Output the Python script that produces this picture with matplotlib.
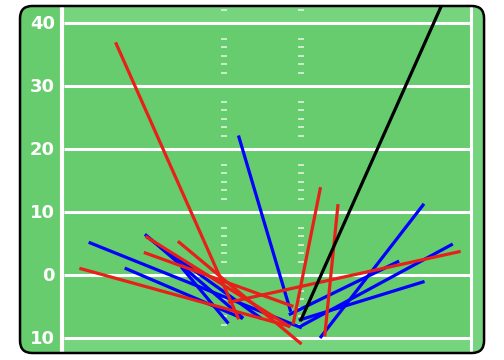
import matplotlib.pyplot as plt
from matplotlib.patches import FancyBboxPatch, Rectangle

# yard lines and the labels painted next to them
yard_lines = [40, 30, 20, 10, 0, -10]
yard_labels = ['40', '30', '20', '10', '0', '10']

# passes: (x_start, y_start, x_end, y_end), x across field, y downfield (yards)
blue_passes = [
    (-23.0, 5.1, 4.4, -8.3),
    (-3.6, 21.9, 3.1, -5.6),
    (20.4, 11.1, 7.1, -9.8),
    (24.1, 4.8, 4.5, -8.1),
    (17.1, 2.1, 3.1, -6.2),
    (20.4, -1.1, 4.4, -7.1),
    (-18.3, 1.0, -3.3, -6.8),
    (-15.7, 6.3, -3.2, -6.7),
    (-15.4, 5.9, -0.8, -6.8),
    (-11.0, 1.1, -5.1, -7.5),
]
red_passes = [
    (-19.6, 36.7, -3.7, -6.8),
    (-15.6, 6.0, 2.9, -8.1),
    (-11.4, 5.2, 4.4, -10.8),
    (-15.8, 3.5, 3.3, -4.9),
    (25.1, 3.7, -4.8, -4.3),
    (-24.2, 1.0, 2.9, -8.1),
    (7.0, 13.7, 3.5, -7.6),
    (9.3, 11.0, 7.6, -9.5),
]
black_passes = [
    (4.5, -7.1, 24.0, 46.0),
]

field_green = '#66cc6e'
light_green = '#76d47f'

fig = plt.figure(figsize=(5.04, 3.6), dpi=100)
ax = fig.add_axes([0, 0, 1, 1])
ax.set_xlim(-34.75, 30.96)
ax.set_ylim(-13.49, 43.65)
ax.axis('off')

# field background
x0, x1, y0, y1 = -32.14, 28.36, -12.38, 42.7
box = dict(boxstyle='round,pad=0,rounding_size=1.6', mutation_aspect=1.22)
field = FancyBboxPatch((x0, y0), x1 - x0, y1 - y0, fc=field_green, ec='none', zorder=0, **box)
ax.add_patch(field)
for r in [Rectangle((-26.67, 40), x1 + 26.67, y1 - 40),
          Rectangle((-26.67, y0), x1 + 26.67, -10 - y0),
          Rectangle((26.67, y0), x1 - 26.67, y1 - y0)]:
    r.set_facecolor(light_green)
    r.set_edgecolor('none')
    r.set_zorder(0.5)
    ax.add_patch(r)
    r.set_clip_path(field)

ax.hlines(yard_lines, -26.4, 26.67, color='white', lw=2.2, zorder=1)
ax.vlines([-26.67], y0, y1, color='white', lw=3, zorder=1)
ax.vlines([26.67], y0, y1, color='white', lw=2.2, zorder=1)

# hash marks
hash_y = [42.06]
for base in [40, 30, 20, 10, 0]:
    for off in [2.5, 3.86, 5.19, 6.46, 7.98]:
        hash_y.append(base - off)
for xc in [-5.54, 4.5]:
    ax.hlines(hash_y, xc - 0.4, xc + 0.4, color='white', alpha=0.7, lw=1.3, zorder=1)

for v, lab in zip(yard_lines, yard_labels):
    ax.text(-27.57, v - 0.2, lab, ha='right', va='center', color='white',
            fontsize=13, fontweight='bold', zorder=2)

# passes
for passes, c in [(blue_passes, '#0000ff'), (red_passes, '#e8201a'), (black_passes, 'black')]:
    for xs, ys, xe, ye in passes:
        ln, = ax.plot([xs, xe], [ys, ye], color=c, lw=2.3, zorder=3)
        ln.set_clip_path(field)

border = FancyBboxPatch((x0, y0), x1 - x0, y1 - y0, fc='none', ec='black', lw=1.8, zorder=5, **box)
ax.add_patch(border)

fig.savefig('out.png', dpi=100)
